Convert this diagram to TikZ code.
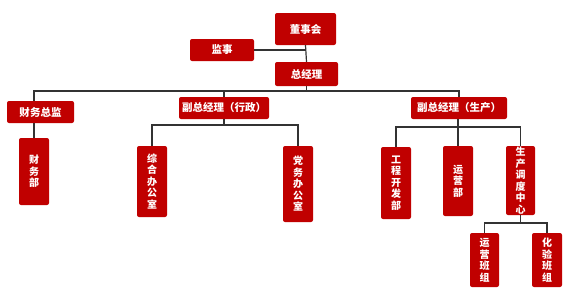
\documentclass[tikz,border=0pt]{standalone}
\usepackage{fontspec}
\setmainfont{Noto Sans CJK SC}
\usepackage{tikz}
\usetikzlibrary{positioning, calc}
\definecolor{orgred}{HTML}{C00000}
\definecolor{linkgray}{HTML}{333333}
\tikzset{
  unit/.style={fill=orgred, rounded corners=2pt, text=white, inner sep=0pt,
    font=\fontsize{10.5}{12}\selectfont\bfseries},
  vunit/.style={unit, align=center, font=\fontsize{10}{11.5}\selectfont\bfseries},
  link/.style={draw=linkgray, line width=1.2pt}
}

\begin{document}
\begin{tikzpicture}[x=1pt, y=-1pt]
\useasboundingbox (0,0) rectangle (564,303);
\node[unit, minimum width=61, minimum height=32] (dsh) at (305.5,29) {董事会};
\node[unit, minimum width=64, minimum height=22] (js) at (222,50) {监事};
\node[unit, minimum width=63, minimum height=24] (zjl) at (306.5,74) {总经理};
\node[unit, minimum width=67, minimum height=22] (cwzj) at (40.5,112) {财务总监};
\node[unit, minimum width=90, minimum height=22] (fzxz) at (224,108) {副总经理（行政）};
\node[unit, minimum width=96, minimum height=22] (fzsc) at (459,108) {副总经理（生产）};
\node[vunit, minimum width=30, minimum height=67] (cwb) at (34,171.5) {财\\务\\部};
\node[vunit, minimum width=30, minimum height=71] (zhbgs) at (152,181.5) {综\\合\\办\\公\\室};
\node[vunit, minimum width=30, minimum height=76] (dwbgs) at (298,184) {党\\务\\办\\公\\室};
\node[vunit, minimum width=30, minimum height=72] (gckfb) at (396,183) {工\\程\\开\\发\\部};
\node[vunit, minimum width=30, minimum height=70] (yyb) at (458,181) {运\\营\\部};
\node[vunit, minimum width=29, minimum height=69] (scdd) at (520.5,180.5) {生\\产\\调\\度\\中\\心};
\node[vunit, minimum width=29, minimum height=54] (yybz) at (484.5,260) {运\\营\\班\\组};
\node[vunit, minimum width=30, minimum height=54] (hybz) at (547,260) {化\\验\\班\\组};
\coordinate (bus) at (0,91);
\coordinate (busxz) at (0,125);
\coordinate (bussc) at (0,127);
\coordinate (busdd) at (0,223);
\draw[link] (dsh.south) -- (zjl.north);
\draw[link] (js.east) -- (js.east -| dsh.south);
\draw[link] (zjl.south) -- (zjl |- bus);
\draw[link] (cwzj.north -| cwb) -- (cwb |- bus) -- (fzsc |- bus) -- (fzsc.north);
\draw[link] (fzxz.north) -- (fzxz |- bus);
\draw[link] (cwzj.south -| cwb) -- (cwb.north);
\draw[link] (fzxz.south) -- (fzxz |- busxz);
\draw[link] (zhbgs.north) -- (zhbgs |- busxz) -- (dwbgs |- busxz) -- (dwbgs.north);
\draw[link] (fzsc.south -| yyb) -- (yyb.north);
\draw[link] (gckfb.north) -- (gckfb |- bussc) -- (scdd |- bussc) -- (scdd.north);
\draw[link] (scdd.south) -- (scdd |- busdd);
\draw[link] (yybz.north) -- (yybz |- busdd) -- (hybz |- busdd) -- (hybz.north);
\end{tikzpicture}
\end{document}
